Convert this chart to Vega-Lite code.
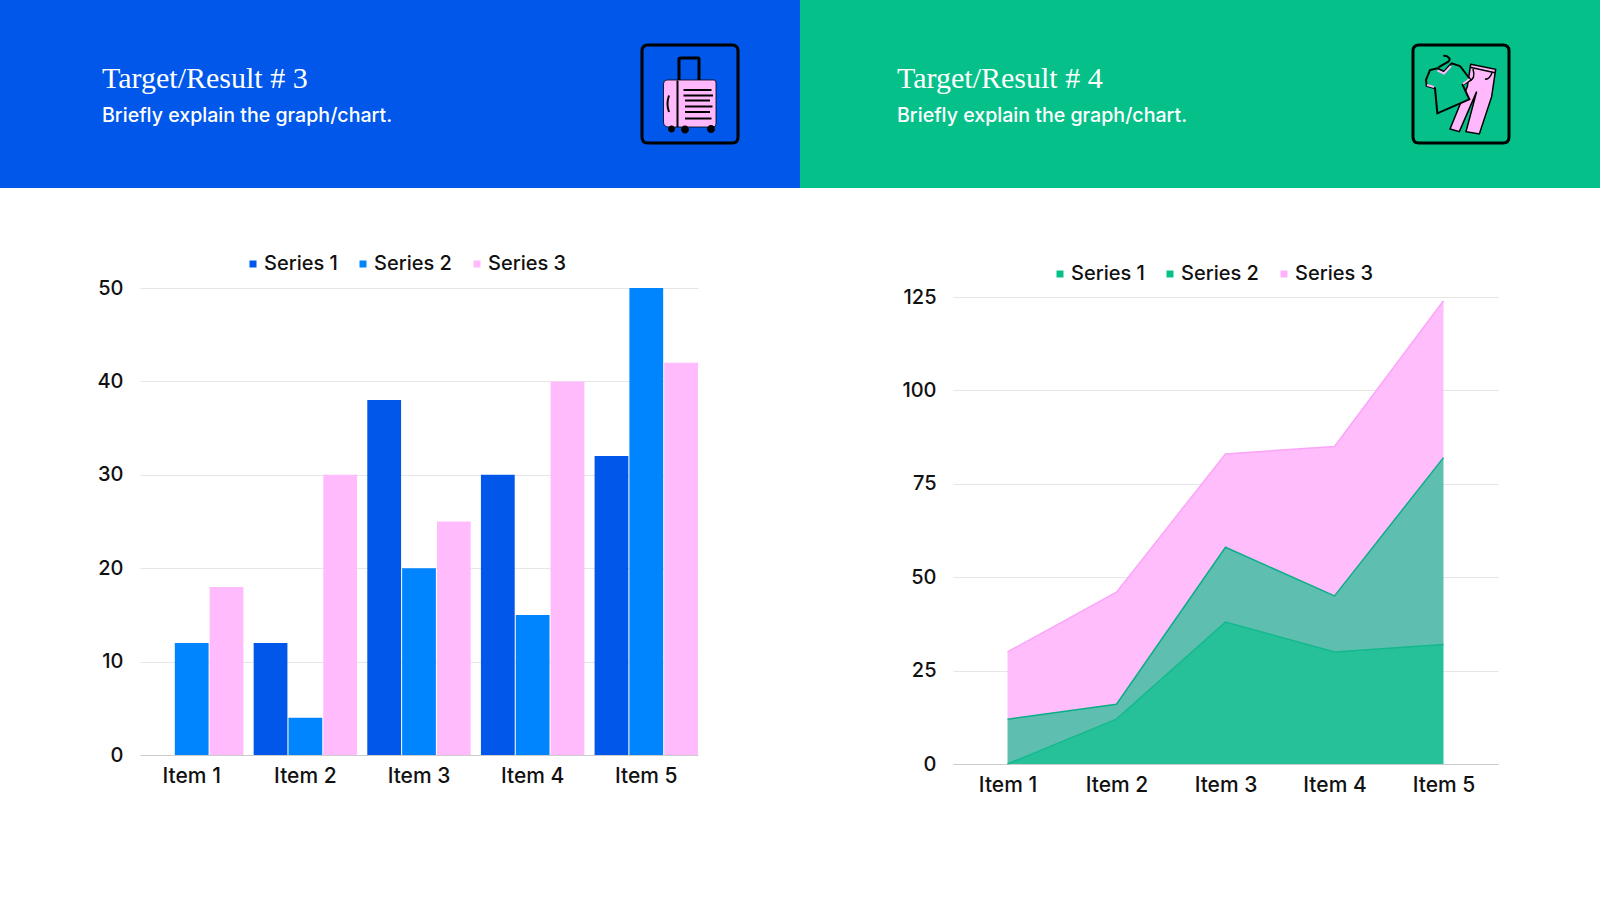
{
  "$schema": "https://vega.github.io/schema/vega-lite/v6.json",
  "padding": 0,
  "background": "white",
  "datasets": {
    "items": [
      {"Item": "Item 1", "Series": "Series 1", "Value": 0},
      {"Item": "Item 2", "Series": "Series 1", "Value": 12},
      {"Item": "Item 3", "Series": "Series 1", "Value": 38},
      {"Item": "Item 4", "Series": "Series 1", "Value": 30},
      {"Item": "Item 5", "Series": "Series 1", "Value": 32},
      {"Item": "Item 1", "Series": "Series 2", "Value": 12},
      {"Item": "Item 2", "Series": "Series 2", "Value": 4},
      {"Item": "Item 3", "Series": "Series 2", "Value": 20},
      {"Item": "Item 4", "Series": "Series 2", "Value": 15},
      {"Item": "Item 5", "Series": "Series 2", "Value": 50},
      {"Item": "Item 1", "Series": "Series 3", "Value": 18},
      {"Item": "Item 2", "Series": "Series 3", "Value": 30},
      {"Item": "Item 3", "Series": "Series 3", "Value": 25},
      {"Item": "Item 4", "Series": "Series 3", "Value": 40},
      {"Item": "Item 5", "Series": "Series 3", "Value": 42}
    ]
  },
  "config": {
    "font": "Inter",
    "view": {"stroke": null},
    "concat": {"spacing": 0},
    "axis": {
      "labelFont": "Inter",
      "labelFontSize": 20,
      "labelFontWeight": 500,
      "labelColor": "#111111",
      "title": null,
      "ticks": false
    },
    "axisX": {"labelFontSize": 21},
    "legend": {
      "title": null,
      "orient": "none",
      "direction": "horizontal",
      "columns": 3,
      "labelFont": "Inter",
      "labelFontSize": 20,
      "labelFontWeight": 500,
      "labelColor": "#111111",
      "labelOffset": 1,
      "columnPadding": 15,
      "symbolType": "square",
      "symbolSize": 49,
      "symbolOpacity": 1,
      "symbolStrokeWidth": 0
    }
  },
  "resolve": {"legend": {"color": "independent"}, "scale": {"color": "independent"}},
  "hconcat": [
    {
      "resolve": {"legend": {"color": "independent"}, "scale": {"color": "independent"}},
      "vconcat": [
        {
          "width": 800,
          "height": 188,
          "view": {"fill": "#0057e9", "stroke": null},
          "data": {"values": [{"title": "Target/Result # 3", "subtitle": "Briefly explain the graph/chart."}]},
          "layer": [
            {
              "mark": {"type": "text", "align": "left", "baseline": "alphabetic", "font": "Liberation Serif", "fontSize": 30, "color": "white"},
              "encoding": {
                "x": {"datum": 102, "type": "quantitative", "scale": {"domain": [0, 800], "nice": false}, "axis": null},
                "y": {"datum": 88, "type": "quantitative", "scale": {"domain": [188, 0], "nice": false}, "axis": null},
                "text": {"field": "title"}
              }
            },
            {
              "mark": {"type": "text", "align": "left", "baseline": "alphabetic", "font": "Inter", "fontWeight": 500, "fontSize": 19.6, "color": "white"},
              "encoding": {
                "x": {"datum": 102, "type": "quantitative"},
                "y": {"datum": 122, "type": "quantitative"},
                "text": {"field": "subtitle"}
              }
            },
            {
              "mark": {"type": "point", "size": 10000, "filled": false, "stroke": "#000000", "strokeWidth": 3, "opacity": 1,
                "shape": "M-.84,-.98 L.84,-.98 Q.96,-.98 .96,-.86 L.96,.86 Q.96,.98 .84,.98 L-.84,.98 Q-.96,.98 -.96,.86 L-.96,-.86 Q-.96,-.98 -.84,-.98 Z"},
              "encoding": {"x": {"datum": 690, "type": "quantitative"}, "y": {"datum": 94, "type": "quantitative"}}
            },
            {
              "mark": {"type": "point", "size": 10000, "filled": false, "stroke": "#000000", "strokeWidth": 3, "opacity": 1,
                "shape": "M-.22,-.28 L-.22,-.7 Q-.22,-.72 -.18,-.72 L.16,-.72 Q.18,-.72 .18,-.7 L.18,-.28"},
              "encoding": {"x": {"datum": 690, "type": "quantitative"}, "y": {"datum": 94, "type": "quantitative"}}
            },
            {
              "mark": {"type": "point", "size": 10000, "filled": true, "fill": "#ffb8fb", "stroke": "#000000", "strokeWidth": 0.8, "opacity": 1,
                "shape": "M-.46,-.28 L.48,-.28 Q.52,-.28 .52,-.22 L.52,.6 Q.52,.66 .46,.66 L-.42,.66 Q-.53,.66 -.53,.56 L-.53,-.2 Q-.53,-.28 -.46,-.28 Z"},
              "encoding": {"x": {"datum": 690, "type": "quantitative"}, "y": {"datum": 94, "type": "quantitative"}}
            },
            {
              "mark": {"type": "point", "size": 10000, "filled": false, "stroke": "#000000", "strokeWidth": 2, "opacity": 1,
                "shape": "M-.25,-.27 L-.25,.66 M-.13,-.08 L.43,-.08 M-.13,.03 L.46,.03 M-.1,.13 L.4,.13 M-.1,.25 L.45,.25 M-.1,.36 L.4,.36 M-.1,.49 L.43,.49 M-.42,.03 Q-.48,.2 -.42,.36"},
              "encoding": {"x": {"datum": 690, "type": "quantitative"}, "y": {"datum": 94, "type": "quantitative"}}
            },
            {
              "mark": {"type": "point", "size": 10000, "filled": true, "fill": "#000000", "strokeWidth": 0, "opacity": 1,
                "shape": "M-.44,.7 A.07,.07 0 1 0 -.3,.7 A.07,.07 0 1 0 -.44,.7 Z M-.18,.71 A.08,.08 0 1 0 -.02,.71 A.08,.08 0 1 0 -.18,.71 Z M.34,.7 A.08,.08 0 1 0 .5,.7 A.08,.08 0 1 0 .34,.7 Z"},
              "encoding": {"x": {"datum": 690, "type": "quantitative"}, "y": {"datum": 94, "type": "quantitative"}}
            }
          ]
        },
        {
          "resolve": {"legend": {"color": "independent"}, "scale": {"color": "independent"}},
          "hconcat": [
            {
              "width": 96,
              "height": 10,
              "data": {"values": []},
              "mark": "point"
            },
            {
              "width": 558,
              "height": 467,
              "data": {"name": "items"},
              "mark": {"type": "bar"},
              "encoding": {
                "x": {
                  "field": "Item",
                  "type": "nominal",
                  "scale": {"paddingInner": 0.09, "paddingOuter": 0},
                  "axis": {"labelAngle": 0, "labelPadding": 10, "domainColor": "#cccccc", "grid": false}
                },
                "xOffset": {"field": "Series", "type": "nominal", "scale": {"paddingInner": 0.03, "paddingOuter": 0}},
                "y": {
                  "field": "Value",
                  "type": "quantitative",
                  "scale": {"domain": [0, 50]},
                  "axis": {"values": [0, 10, 20, 30, 40, 50], "labelPadding": 17, "domain": false, "gridColor": "#e6e6e6"}
                },
                "color": {
                  "field": "Series",
                  "type": "nominal",
                  "scale": {"range": ["#0057e9", "#0085ff", "#ffbbfc"]},
                  "legend": {"legendX": 103, "legendY": -34}
                }
              }
            }
          ]
        }
      ],
      "spacing": 66
    },
    {
      "resolve": {"legend": {"color": "independent"}, "scale": {"color": "independent"}},
      "vconcat": [
        {
          "width": 800,
          "height": 188,
          "view": {"fill": "#05c189", "stroke": null},
          "data": {"values": [{"title": "Target/Result # 4", "subtitle": "Briefly explain the graph/chart."}]},
          "layer": [
            {
              "mark": {"type": "text", "align": "left", "baseline": "alphabetic", "font": "Liberation Serif", "fontSize": 30, "color": "white"},
              "encoding": {
                "x": {"datum": 97, "type": "quantitative", "scale": {"domain": [0, 800], "nice": false}, "axis": null},
                "y": {"datum": 88, "type": "quantitative", "scale": {"domain": [188, 0], "nice": false}, "axis": null},
                "text": {"field": "title"}
              }
            },
            {
              "mark": {"type": "text", "align": "left", "baseline": "alphabetic", "font": "Inter", "fontWeight": 500, "fontSize": 19.6, "color": "white"},
              "encoding": {
                "x": {"datum": 97, "type": "quantitative"},
                "y": {"datum": 122, "type": "quantitative"},
                "text": {"field": "subtitle"}
              }
            },
            {
              "mark": {"type": "point", "size": 10000, "filled": false, "stroke": "#000000", "strokeWidth": 3, "opacity": 1,
                "shape": "M-.84,-.98 L.84,-.98 Q.96,-.98 .96,-.86 L.96,.86 Q.96,.98 .84,.98 L-.84,.98 Q-.96,.98 -.96,.86 L-.96,-.86 Q-.96,-.98 -.84,-.98 Z"},
              "encoding": {"x": {"datum": 661, "type": "quantitative"}, "y": {"datum": 94, "type": "quantitative"}}
            },
            {
              "mark": {"type": "point", "size": 10000, "filled": true, "fill": "#ffb8fb", "stroke": "#000000", "strokeWidth": 1.5, "opacity": 1,
                "shape": "M.193,-.593 L.693,-.493 L.613,.053 L.367,.8 L.1,.753 L.313,-.047 L-.033,.753 L-.22,.7 L.127,-.147 Z"},
              "encoding": {"x": {"datum": 661, "type": "quantitative"}, "y": {"datum": 94, "type": "quantitative"}}
            },
            {
              "mark": {"type": "point", "size": 10000, "filled": false, "stroke": "#000000", "strokeWidth": 1.5, "opacity": 1,
                "shape": "M.18,-.533 L.68,-.427 M.24,-.5 Q.3,-.3 .16,-.26 M.62,-.42 Q.56,-.28 .48,-.3"},
              "encoding": {"x": {"datum": 661, "type": "quantitative"}, "y": {"datum": 94, "type": "quantitative"}}
            },
            {
              "mark": {"type": "point", "size": 10000, "filled": true, "fill": "#05c189", "stroke": "#000000", "strokeWidth": 2, "opacity": 1,
                "shape": "M-.473,-.513 L-.34,-.447 L-.187,-.613 L-.02,-.56 L.193,-.28 L.033,-.18 L.167,.107 L-.473,.387 L-.52,-.113 L-.687,-.16 L-.7,-.28 L-.62,-.48 Z"},
              "encoding": {"x": {"datum": 661, "type": "quantitative"}, "y": {"datum": 94, "type": "quantitative"}}
            },
            {
              "mark": {"type": "point", "size": 10000, "filled": false, "stroke": "#ffb8fb", "strokeWidth": 2, "opacity": 1,
                "shape": "M.04,-.2 L.17,-.3 M-.68,-.18 L-.54,-.14 M-.47,-.47 L-.34,-.41 L-.2,-.56"},
              "encoding": {"x": {"datum": 661, "type": "quantitative"}, "y": {"datum": 94, "type": "quantitative"}}
            },
            {
              "mark": {"type": "point", "size": 10000, "filled": false, "stroke": "#000000", "strokeWidth": 2, "opacity": 1,
                "shape": "M-.453,-.533 L-.253,-.647 Q-.2,-.7 -.253,-.733 Q-.3,-.78 -.353,-.76"},
              "encoding": {"x": {"datum": 661, "type": "quantitative"}, "y": {"datum": 94, "type": "quantitative"}}
            }
          ]
        },
        {
          "resolve": {"legend": {"color": "independent"}, "scale": {"color": "independent"}},
          "hconcat": [
            {
              "width": 100.5,
              "height": 10,
              "data": {"values": []},
              "mark": "point"
            },
            {
              "width": 545,
              "height": 467,
              "data": {"name": "items"},
              "encoding": {
                "x": {
                  "field": "Item",
                  "type": "nominal",
                  "scale": {"type": "point", "padding": 0.5},
                  "axis": {"labelAngle": 0, "labelPadding": 10, "domainColor": "#cccccc", "grid": false}
                },
                "y": {
                  "field": "Value",
                  "type": "quantitative",
                  "stack": "zero",
                  "scale": {"domain": [0, 125]},
                  "axis": {"values": [0, 25, 50, 75, 100, 125], "labelPadding": 17, "domain": false, "gridColor": "#e6e6e6"}
                },
                "order": {"field": "Series", "sort": "ascending"}
              },
              "layer": [
                {
                  "mark": {"type": "area", "opacity": 0.95, "interpolate": "linear"},
                  "encoding": {
                    "fill": {
                      "field": "Series",
                      "type": "nominal",
                      "scale": {"range": ["#1bbe94", "#55bcac", "#ffb9fc"]},
                      "legend": null
                    }
                  }
                },
                {
                  "mark": {"type": "line", "strokeWidth": 1.5},
                  "encoding": {
                    "stroke": {
                      "field": "Series",
                      "type": "nominal",
                      "scale": {"range": ["#12b98c", "#0bae86", "#fba4f8"]},
                      "legend": null
                    }
                  }
                },
                {
                  "mark": {"type": "square", "size": 0, "opacity": 0},
                  "encoding": {
                    "y": {"field": "Value", "type": "quantitative", "stack": null},
                    "color": {
                      "field": "Series",
                      "type": "nominal",
                      "scale": {"range": ["#05c189", "#05c189", "#ffb0fb"]},
                      "legend": {"legendX": 97, "legendY": -33}
                    }
                  }
                }
              ],
              "resolve": {"scale": {"color": "independent", "fill": "independent", "stroke": "independent"}}
            }
          ]
        }
      ],
      "spacing": 76
    }
  ]
}
